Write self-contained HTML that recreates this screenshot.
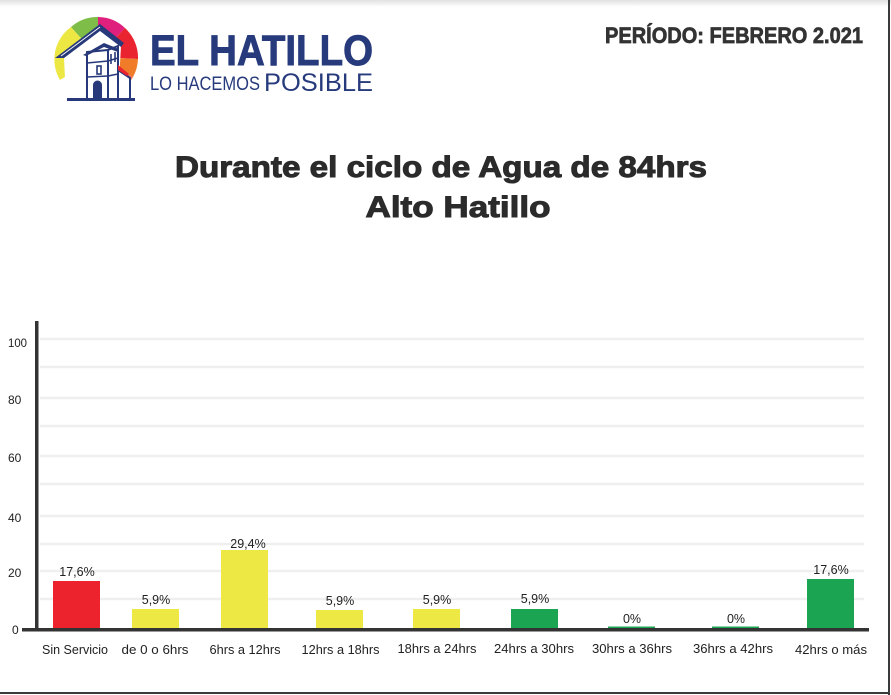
<!DOCTYPE html>
<html>
<head>
<meta charset="utf-8">
<style>
html,body{margin:0;padding:0;background:#fff;}
svg{display:block;}
text{font-family:"Liberation Sans",sans-serif;}
</style>
</head>
<body>
<svg width="891" height="695" viewBox="0 0 891 695" xmlns="http://www.w3.org/2000/svg">
<defs>
<linearGradient id="topg" x1="0" y1="0" x2="0" y2="1">
<stop offset="0" stop-color="#e2e2e2"/>
<stop offset="1" stop-color="#ffffff"/>
</linearGradient>
</defs>
<rect x="0" y="0" width="891" height="695" fill="#fff"/>
<rect x="0" y="0" width="891" height="7" fill="url(#topg)"/>
<!-- borders -->
<rect x="888" y="0" width="2" height="695" fill="#3a3a3a"/>
<rect x="0" y="692" width="890" height="2" fill="#3a3a3a"/>

<!-- logo wedges: center (98,57) r 40 -->
<g>
<path d="M98,57 L60,80 A40,40 0 0,1 71,27 Z" fill="#ece743"/>
<path d="M98,57 L71,27 A40,40 0 0,1 98,17 Z" fill="#7dbd48"/>
<path d="M98,57 L98,17 A40,40 0 0,1 125,28 Z" fill="#e0207d"/>
<path d="M98,57 L125,28 A40,40 0 0,1 138,59 Z" fill="#ea2330"/>
<path d="M98,57 L138,59 A40,40 0 0,1 133,77 Z" fill="#f07c2a"/>
<path d="M98,57 L133,77 A40,40 0 0,1 126,86 Z" fill="#f26a4f"/>
</g>
<!-- white area under roof -->
<polygon points="64,58 100,30 121,46 118,99 66,99" fill="#fff"/>
<!-- roof -->
<polygon points="55,58 100,24 124,43 121,47 100,31 64,58" fill="#27397a"/>
<line x1="61" y1="56" x2="100" y2="27" stroke="#fff" stroke-width="0.9"/>
<!-- tower -->
<g stroke="#27397a" fill="#fff" stroke-width="2">
<polygon points="87,52 108,50 108,99 87,99"/>
<polygon points="108,50 118,46 118,99 108,99"/>
<polygon points="118,70 130,78 130,99 118,99"/>
</g>
<polygon points="83,55 104,43 119,49 118,52 104,47 86,56" fill="#27397a"/>
<polygon points="118,65 129,74 127,76 118,70" fill="#ea2330"/>
<g stroke="#27397a" stroke-width="1.6" fill="none">
<line x1="87" y1="63" x2="108" y2="61"/>
<line x1="87" y1="77" x2="108" y2="76"/>
<line x1="108" y1="61" x2="118" y2="58"/>
<line x1="108" y1="76" x2="118" y2="74"/>
<rect x="97" y="66" width="4" height="8"/>
<line x1="111" y1="54" x2="111" y2="64"/>
<line x1="115" y1="52" x2="115" y2="62"/>
</g>
<path d="M93,99 L93,85 A4.5,4.5 0 0,1 102,85 L102,99 Z" fill="#27397a"/>
<rect x="67" y="98" width="68" height="3" fill="#27397a"/>

<!-- logo text -->
<text x="150" y="65" font-size="43" font-weight="bold" fill="#263a7c" stroke="#263a7c" stroke-width="0.9" textLength="223" lengthAdjust="spacingAndGlyphs">EL HATILLO</text>
<text x="150" y="90" font-size="19.5" fill="#263a7c" textLength="110" lengthAdjust="spacingAndGlyphs">LO HACEMOS</text>
<text x="264" y="91" font-size="25" fill="#263a7c" textLength="109" lengthAdjust="spacingAndGlyphs">POSIBLE</text>

<!-- period -->
<text x="605" y="43" font-size="22" font-weight="bold" fill="#333" stroke="#333" stroke-width="0.7" textLength="258" lengthAdjust="spacingAndGlyphs">PERÍODO: FEBRERO 2.021</text>

<!-- title -->
<text x="441" y="177" font-size="30" font-weight="bold" fill="#2b2b2b" stroke="#2b2b2b" stroke-width="1" text-anchor="middle" textLength="532" lengthAdjust="spacingAndGlyphs">Durante el ciclo de Agua de 84hrs</text>
<text x="458" y="217" font-size="30" font-weight="bold" fill="#2b2b2b" stroke="#2b2b2b" stroke-width="1" text-anchor="middle" textLength="185" lengthAdjust="spacingAndGlyphs">Alto Hatillo</text>

<!-- gridlines -->
<g stroke="#efefef" stroke-width="2.5">
<line x1="40" y1="339" x2="864" y2="339"/>
<line x1="40" y1="367" x2="864" y2="367"/>
<line x1="40" y1="398" x2="864" y2="398"/>
<line x1="40" y1="426" x2="864" y2="426"/>
<line x1="40" y1="456" x2="864" y2="456"/>
<line x1="40" y1="484" x2="864" y2="484"/>
<line x1="40" y1="516" x2="864" y2="516"/>
<line x1="40" y1="544" x2="864" y2="544"/>
<line x1="40" y1="571" x2="864" y2="571"/>
<line x1="40" y1="599" x2="864" y2="599"/>
</g>

<!-- y tick labels -->
<g font-size="12" fill="#222">
<text x="8" y="347" textLength="19" lengthAdjust="spacingAndGlyphs">100</text>
<text x="8" y="404">80</text>
<text x="8" y="462">60</text>
<text x="8" y="522">40</text>
<text x="8" y="577">20</text>
<text x="12" y="634">0</text>
</g>

<!-- bars -->
<rect x="53" y="581" width="47" height="48" fill="#ec222d"/>
<rect x="132" y="609" width="47" height="20" fill="#ede843"/>
<rect x="221" y="550" width="47" height="79" fill="#ede843"/>
<rect x="316" y="610" width="47" height="19" fill="#ede843"/>
<rect x="413" y="609" width="47" height="20" fill="#ede843"/>
<rect x="511" y="609" width="47" height="20" fill="#1ba553"/>
<rect x="608" y="626.5" width="47" height="2" fill="#1ba553"/>
<rect x="712" y="626.5" width="47" height="2" fill="#1ba553"/>
<rect x="807" y="579" width="47" height="50" fill="#1ba553"/>

<!-- axes -->
<rect x="35" y="321" width="3.5" height="309" fill="#333"/>
<rect x="22" y="628" width="847" height="3.5" fill="#333"/>

<!-- value labels -->
<g font-size="12.5" fill="#222" text-anchor="middle">
<text x="77" y="576">17,6%</text>
<text x="156" y="604">5,9%</text>
<text x="248" y="548">29,4%</text>
<text x="340" y="605">5,9%</text>
<text x="437" y="604">5,9%</text>
<text x="535" y="603">5,9%</text>
<text x="632" y="623">0%</text>
<text x="736" y="623">0%</text>
<text x="831" y="574">17,6%</text>
</g>

<!-- category labels -->
<g font-size="12.5" fill="#222" text-anchor="middle">
<text x="75" y="654" textLength="66" lengthAdjust="spacingAndGlyphs">Sin Servicio</text>
<text x="155" y="654" textLength="67" lengthAdjust="spacingAndGlyphs">de 0 o 6hrs</text>
<text x="245" y="654" textLength="71" lengthAdjust="spacingAndGlyphs">6hrs a 12hrs</text>
<text x="340.5" y="654" textLength="78" lengthAdjust="spacingAndGlyphs">12hrs a 18hrs</text>
<text x="437" y="653" textLength="79" lengthAdjust="spacingAndGlyphs">18hrs a 24hrs</text>
<text x="534" y="653" textLength="80" lengthAdjust="spacingAndGlyphs">24hrs a 30hrs</text>
<text x="632" y="653" textLength="80" lengthAdjust="spacingAndGlyphs">30hrs a 36hrs</text>
<text x="733" y="653" textLength="80" lengthAdjust="spacingAndGlyphs">36hrs a 42hrs</text>
<text x="831" y="654" textLength="72" lengthAdjust="spacingAndGlyphs">42hrs o más</text>
</g>
</svg>
</body>
</html>
